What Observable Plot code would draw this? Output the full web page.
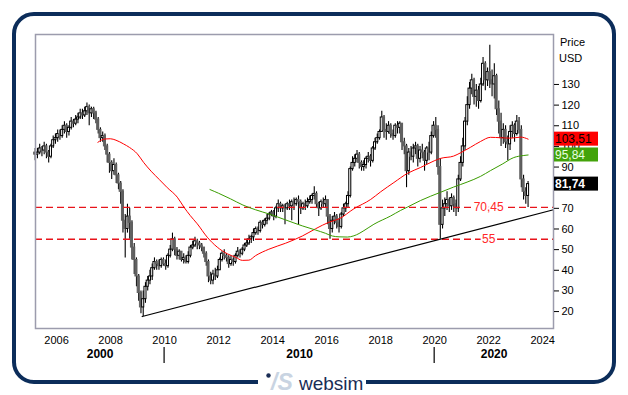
<!DOCTYPE html>
<html>
<head>
<meta charset="utf-8">
<script src="https://cdn.jsdelivr.net/npm/d3@7"></script>
<script src="https://cdn.jsdelivr.net/npm/@observablehq/plot@0.6"></script>
<style>
  html, body { margin: 0; padding: 0; background: #fff; }
  #chart { position: relative; width: 628px; height: 395px; }
</style>
</head>
<body>
<div id="chart"></div>
<script>
// ---- Monthly candles, first candle March 2005 ----
const startYear = 2005, startMonth = 3;
const firstOpen = 97;
const closes = [
  96,97,99,98,100,97,95,100,103,104,
  106,105,108,110,107,109,112,111,113,114,116,115,
  117,119,116,118,116,113,108,104,105,100,96,92,
  88,91,86,82,78,64,60,66,63,51,45,37,
  29,22,26,32,35,37,41,44,43,42,45,43,
  42,47,50,55,50,47,49,45,46,44,47,51,
  52,54,53,52,51,48,44,37,35,38,37,40,
  45,48,47,46,43,45,44,47,49,48,50,52,
  53,55,56,58,60,59,63,62,64,65,67,68,
  66,70,72,70,71,70,72,71,73,72,74,73,
  70,72,71,73,74,76,77,72,70,73,72,74,
  66,60,64,66,63,61,67,70,72,76,89,92,
  94,96,92,90,91,94,95,93,99,102,104,107,
  114,108,107,110,106,105,110,109,111,102,100,88,
  97,95,99,100,94,98,97,93,99,97,105,110,
  108,90,62,70,72,74,71,75,72,70,84,92,
  100,112,120,128,132,124,127,122,130,140,132,136,
  132,130,134,118,112,104,108,102,101,107,110,106,
  112,108,84,78,76,81.74
];
const highs = [
  99,99,101,100,102,101,98,101,105,106,
  108,108,110,112,111,110,114,113,115,116,118,118,
  119,121,120,119,119,117,114,109,107,106,101,97,
  93,94,92,87,83,79,67,72,70,64,53,46,
  38,30,30,34,37,40,43,46,45,45,46,46,
  45,48,52,58,56,51,50,49,48,47,49,52,
  54,56,55,54,53,51,49,45,39,40,41,42,
  46,49,50,48,47,47,46,48,51,50,51,53,
  55,57,57,60,61,61,64,64,65,67,68,69,
  69,71,74,73,72,72,73,74,74,75,75,76,
  74,73,74,75,76,77,80.5,78,73,74,75,76,
  74,67,66,68,67,65,68,72,73,78,90,95,
  96,98,97,93,93,95,97,96,100,104,106,108,
  117,115,111,112,111,108,111,112,112,111,104,101,
  99,100,101,102,101,100,101,98,100,102,107,112,
  114,110,94,74,75,78,75,77,76,74,86,95,
  104,114,124,131,135,133,130,129,133,143,141,138,
  149,137,140,135,122,116,111,110,105,110,112,111,
  115,114,110,86,80,83
];
const lows = [
  93,94,96,95,96,94,92,94,99,101,
  102,103,104,106,104,105,108,109,110,111,113,113,
  114,115,110,114,113,111,106,102,102,98,92,87,
  84,86,82,79,72,58,46,58,55,45,38,32,
  25,19,17.6,24,30,33,35,40,40,40,41,42,
  40,41,46,49,47,45,45,44,43,43,43,46,
  50,51,50,50,49,46,42,34,33,33,35,36,
  40,44,45,44,41,42,42,43,46,46,47,49,
  51,52,53,54,57,57,58,60,61,62,64,66,
  64,65,68,68,68,62,69,69,64,69,71,62,
  67,69,69,70,72,72,74,70,66,69,70,70,
  62,55,58,62,60,58,60,66,68,70,75,88,
  90,92,89,88,88,89,92,90,92,98,101,103,
  107,104,103,106,104,103,104,106,106,98,96,80,
  86,93,92,96,90,92,94,88,91,93,96,104,
  104,86,55,60,66,69,68,69,68,66,68,83,
  90,98,110,118,125,120,119,118,121,129,127,129,
  128,124,123,115,106,100,101,99,93,98,104,102,
  105,106,80,74,72,70.45
];

// ---- Moving averages [decimal year, value] ----
const redMA = [
  [2007.53,102.0],[2007.8,103.6],[2007.99,103.7],[2008.2,103.0],[2008.48,101.2],
  [2008.7,99.5],[2008.99,96.4],[2009.22,92.3],[2009.5,88],[2009.8,84],
  [2010.1,80],[2010.47,75.4],[2010.72,70.5],[2010.95,66.5],[2011.21,62.5],
  [2011.58,56],[2011.95,51.2],[2012.32,48],[2012.63,46.3],[2012.88,44.8],
  [2013.12,44.9],[2013.37,47.1],[2013.86,50.2],[2014.48,53.1],[2015.1,56.6],
  [2015.59,60.1],[2016.09,63.3],[2016.46,64.9],[2017.01,69.8],[2017.63,74.3],
  [2018.0,78],[2018.49,82.5],[2019.0,87],[2019.48,89.8],[2019.98,93],
  [2020.22,94.2],[2020.7,95.3],[2020.96,96.9],[2021.33,99.6],[2021.7,102.4],
  [2022.07,104.4],[2022.44,104.2],[2022.81,104.0],[2023.19,104.5],[2023.46,103.51]
];
const greenMA = [
  [2011.68,79.1],[2012.0,77.3],[2012.44,74.6],[2012.9,71.6],[2013.37,69.3],
  [2013.86,67.3],[2014.48,64.4],[2015.1,61.5],[2015.59,59.5],[2015.96,57.9],
  [2016.21,56.6],[2016.46,56.2],[2016.77,56.1],[2017.01,56.7],[2017.2,57.8],
  [2017.38,59.2],[2017.75,62.3],[2018.37,66.3],[2018.74,69.0],[2018.99,70.6],
  [2019.48,73.8],[2020.22,77.8],[2020.7,80.3],[2021.2,82.7],[2021.7,85.5],
  [2022.07,88.3],[2022.5,91.4],[2022.93,94.6],[2023.3,95.6],[2023.46,95.84]
];

// ---- Support levels and trend line ----
const levels = [70.45, 55];
const trendLine = [[2009.17, 17.6], [2024.4, 69.3]];
const lastValues = [
  {value: 103.51, fill: "#ff0000", color: "#000000", weight: "normal"},
  {value: 95.84, fill: "#43a30a", color: "#eaffe0", weight: "normal"},
  {value: 81.74, fill: "#000000", color: "#ffffff", weight: "bold"}
];
const yearTicks = [2006, 2008, 2010, 2012, 2014, 2016, 2018, 2020, 2022, 2024];
const priceTicks = [20, 30, 40, 50, 60, 70, 90, 100, 110, 120, 130];
const decades = [2000, 2010, 2020];
const xDomain = [2005.22, 2024.4];
const yDomain = [11.8, 154.2];

// ---- Build candle table ----
const candles = closes.map((c, i) => {
  const m = startMonth - 1 + i;
  const year = startYear + Math.floor(m / 12);
  const month = (m % 12) + 1;
  const open = i === 0 ? firstOpen : closes[i - 1];
  return {
    t: year + (month - 0.5) / 12,
    open, close: c,
    high: Math.max(highs[i], open, c),
    low: Math.min(lows[i], open, c),
    up: c >= open
  };
});
const halfW = 0.46 / 12;

const decadeLabels = decades.map(d => {
  const a = Math.max(d, xDomain[0]), b = Math.min(d + 10, xDomain[1]);
  return {label: String(d), x: (a + b) / 2};
});

const fmt = v => String(v).replace(".", ",");
const FONT = "Arial, 'Liberation Sans', sans-serif";

const plot = Plot.plot({
  width: 628,
  height: 395,
  marginLeft: 35,
  marginRight: 75,
  marginTop: 34,
  marginBottom: 67,
  x: {domain: xDomain},
  y: {domain: yDomain},
  style: {fontFamily: FONT, fontSize: "11px", color: "#000", background: "transparent"},
  marks: [
    Plot.ruleX(candles, {x: "t", y1: "low", y2: "high", stroke: "#000", strokeWidth: 1.1}),
    Plot.rect(candles, {
      x1: d => d.t - halfW, x2: d => d.t + halfW,
      y1: "open", y2: "close",
      fill: d => d.up ? "#ffffff" : "#606060",
      stroke: d => d.up ? "#000000" : "#606060",
      strokeWidth: 1
    }),
    Plot.ruleY(levels, {stroke: "#e8141b", strokeWidth: 1.4, strokeDasharray: "7,4"}),
    Plot.line(trendLine, {x: d => d[0], y: d => d[1], stroke: "#000", strokeWidth: 1.2}),
    Plot.line(redMA, {x: d => d[0], y: d => d[1], stroke: "#ff0000", strokeWidth: 1, curve: "monotone-x"}),
    Plot.line(greenMA, {x: d => d[0], y: d => d[1], stroke: "#3a9c00", strokeWidth: 1, curve: "monotone-x"}),
    Plot.text(levels, {
      x: () => 2022.0, y: d => d, text: d => fmt(d),
      fill: "#ff2828", stroke: "#ffffff", strokeWidth: 4, paintOrder: "stroke",
      fontSize: 12
    }),
    Plot.frame({stroke: "#9c9cad", strokeWidth: 1.5}),
    Plot.axisY({anchor: "right", ticks: priceTicks, tickSize: 5, tickPadding: 3, tickFormat: d => String(d)}),
    Plot.axisX({ticks: yearTicks, tickSize: 0, tickPadding: 8, tickFormat: d => String(d)}),
    Plot.text(decadeLabels, {x: "x", text: "label", frameAnchor: "bottom", dy: 29, fontWeight: "bold", fontSize: 12})
  ]
});

document.getElementById("chart").append(plot);

const svg = d3.select(plot);
const xs = plot.scale("x"), ys = plot.scale("y");
const navy = "#0c2d5a";
const overlay = svg.append("g").attr("text-anchor", "start").attr("font-family", FONT);

// decade separators
decades.filter(d => d > xDomain[0]).forEach(d => {
  overlay.append("line")
    .attr("x1", xs.apply(d)).attr("x2", xs.apply(d))
    .attr("y1", 347).attr("y2", 363)
    .attr("stroke", "#000").attr("stroke-width", 1.2);
});

// axis caption
overlay.append("text").attr("x", 560).attr("y", 46).text("Price").attr("font-size", 11);
overlay.append("text").attr("x", 559).attr("y", 62).text("USD").attr("font-size", 11);

// last value boxes
lastValues.forEach(v => {
  const y = ys.apply(v.value);
  overlay.append("rect").attr("x", 554).attr("y", y - 7).attr("width", 44).attr("height", 14).attr("fill", v.fill);
  overlay.append("text").attr("x", 555).attr("y", y + 4.5).text(fmt(v.value))
    .attr("font-size", 12).attr("font-weight", v.weight).attr("fill", v.color);
});

// outer rounded border
overlay.append("rect").attr("x", 14).attr("y", 14).attr("width", 600).attr("height", 368)
  .attr("rx", 20).attr("fill", "none").attr("stroke", navy).attr("stroke-width", 4);
overlay.append("rect").attr("x", 258).attr("y", 376).attr("width", 108).attr("height", 14).attr("fill", "#fff");

// logo
overlay.append("circle").attr("cx", 268.5).attr("cy", 375.5).attr("r", 2.2).attr("fill", "#1a2d55");
overlay.append("text").attr("x", 271).attr("y", 390).text("/S")
  .attr("font-size", 23).attr("font-style", "italic").attr("font-weight", "bold").attr("fill", "#c9d4e2");
overlay.append("text").attr("x", 299).attr("y", 390).text("websim")
  .attr("font-size", 19).attr("fill", "#1a2d55");
</script>
</body>
</html>
